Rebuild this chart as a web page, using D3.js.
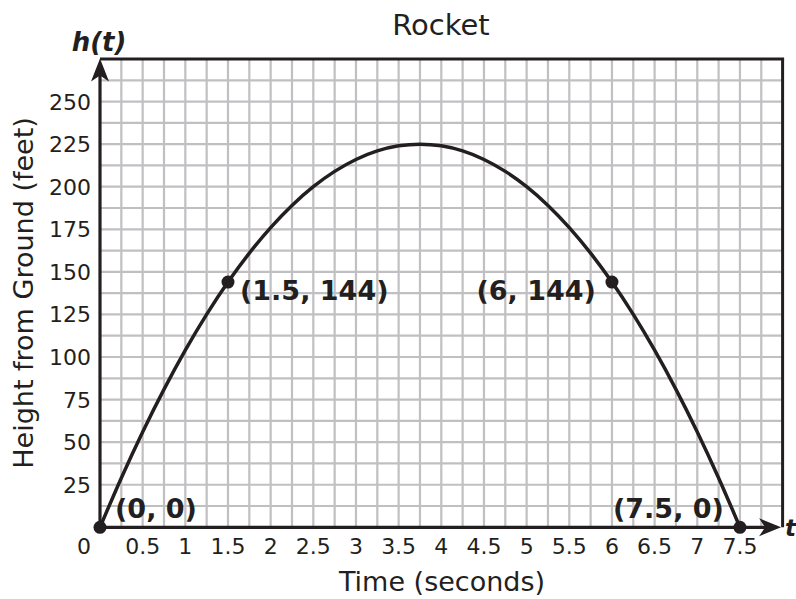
<!DOCTYPE html>
<html><head><meta charset="utf-8">
<script src="https://cdn.jsdelivr.net/npm/d3@7"></script>
<style>body{margin:0;background:#fff}svg{display:block}text{font-family:"DejaVu Sans",Verdana,sans-serif;fill:#231f20}</style>
</head><body><svg id="c" width="796" height="599"></svg>
<script>
const timeValues = [0,0.25,0.5,0.75,1,1.25,1.5,1.75,2,2.25,2.5,2.75,3,3.25,3.5,3.75,4,4.25,4.5,4.75,5,5.25,5.5,5.75,6,6.25,6.5,6.75,7,7.25,7.5];
const heightValues = [0,29,56,81,104,125,144,161,176,189,200,209,216,221,224,225,224,221,216,209,200,189,176,161,144,125,104,81,56,29,0];
const markedPoints = [
  {t:0, h:0, label:"(0, 0)"},
  {t:1.5, h:144, label:"(1.5, 144)"},
  {t:6, h:144, label:"(6, 144)"},
  {t:7.5, h:0, label:"(7.5, 0)"}
];
const xTickValues = [0,0.5,1,1.5,2,2.5,3,3.5,4,4.5,5,5.5,6,6.5,7,7.5];
const yTickValues = [25,50,75,100,125,150,175,200,225,250];
const chartTitle = "Rocket";
const xTitle = "Time (seconds)";
const yTitle = "Height from Ground (feet)";

const svg = d3.select("#c");
const x = d3.scaleLinear().domain([0,8]).range([100,782.6]);
const y = d3.scaleLinear().domain([0,275]).range([527.3,59]);
const ink = "#231f20";

// grid
const g = svg.append("g");
g.selectAll("line.v").data(d3.range(1,32).map(i=>i*0.25)).join("line")
  .attr("x1",d=>x(d)).attr("x2",d=>x(d)).attr("y1",y(0)).attr("y2",y(275))
  .attr("stroke","#c0c0c3").attr("stroke-width",2.2);
g.selectAll("line.h").data(d3.range(1,22).map(i=>i*12.5)).join("line")
  .attr("y1",d=>y(d)).attr("y2",d=>y(d)).attr("x1",x(0)).attr("x2",x(8))
  .attr("stroke","#c0c0c3").attr("stroke-width",2.2);

// frame top/right
svg.append("line").attr("x1",x(0)).attr("x2",x(8)+1.5).attr("y1",y(275)).attr("y2",y(275)).attr("stroke",ink).attr("stroke-width",3);
svg.append("line").attr("x1",x(8)).attr("x2",x(8)).attr("y1",y(275)).attr("y2",y(0)).attr("stroke",ink).attr("stroke-width",3);

// axes
svg.append("line").attr("x1",x(0)).attr("x2",x(8)-6).attr("y1",y(0)).attr("y2",y(0)).attr("stroke",ink).attr("stroke-width",3.2);
svg.append("line").attr("x1",x(0)).attr("x2",x(0)).attr("y1",y(0)).attr("y2",y(275)+8).attr("stroke",ink).attr("stroke-width",3.2);
// arrows
const ax = x(8)-1.5, ay = y(0);
svg.append("path").attr("d",`M${ax},${ay} L${ax-22},${ay-9} L${ax-16},${ay} L${ax-22},${ay+9} Z`).attr("fill",ink);
const bx = x(0), by = y(275)-0.5;
svg.append("path").attr("d",`M${bx},${by} L${bx-9},${by+23} L${bx},${by+17} L${bx+9},${by+23} Z`).attr("fill",ink);

// curve
const line = d3.line().x(d=>x(d[0])).y(d=>y(d[1])).curve(d3.curveCatmullRom);
svg.append("path").datum(timeValues.map((t,i)=>[t,heightValues[i]]))
  .attr("d",line).attr("fill","none").attr("stroke",ink).attr("stroke-width",3.5);

// points & labels
svg.selectAll("circle.p").data(markedPoints).join("circle")
  .attr("cx",d=>x(d.t)).attr("cy",d=>y(d.h)).attr("r",6.5).attr("fill",ink);
const lab = svg.selectAll("text.pl").data(markedPoints).join("text")
  .attr("font-weight","bold").attr("font-size",27).text(d=>d.label)
  .attr("x",(d,i)=> i===0 ? x(d.t)+15 : i===1 ? x(d.t)+12 : x(d.t)-16)
  .attr("y",(d,i)=> i===0||i===3 ? y(d.h)-9 : y(d.h)+18)
  .attr("text-anchor",(d,i)=> i<2 ? "start" : "end");

// ticks
svg.selectAll("text.xt").data(xTickValues).join("text")
  .attr("x",d=> d===0 ? x(d)-16 : x(d)).attr("y",554).attr("text-anchor","middle")
  .attr("font-size",22).text(d=>d);
svg.selectAll("text.yt").data(yTickValues).join("text")
  .attr("x",91).attr("y",d=>y(d)+8).attr("text-anchor","end")
  .attr("font-size",22).text(d=>d);

// titles
svg.append("text").attr("x",441).attr("y",35).attr("text-anchor","middle").attr("font-size",29).text(chartTitle);
svg.append("text").attr("x",442).attr("y",591).attr("text-anchor","middle").attr("font-size",27).text(xTitle);
svg.append("text").attr("transform",`translate(33,293) rotate(-90)`).attr("text-anchor","middle").attr("font-size",27).text(yTitle);
svg.append("text").attr("x",99).attr("y",51).attr("text-anchor","middle").attr("font-size",26).attr("font-weight","bold").attr("font-style","italic").text("h(t)");
svg.append("text").attr("x",785).attr("y",536).attr("font-size",23).attr("font-weight","bold").attr("font-style","italic").text("t");
</script></body></html>
